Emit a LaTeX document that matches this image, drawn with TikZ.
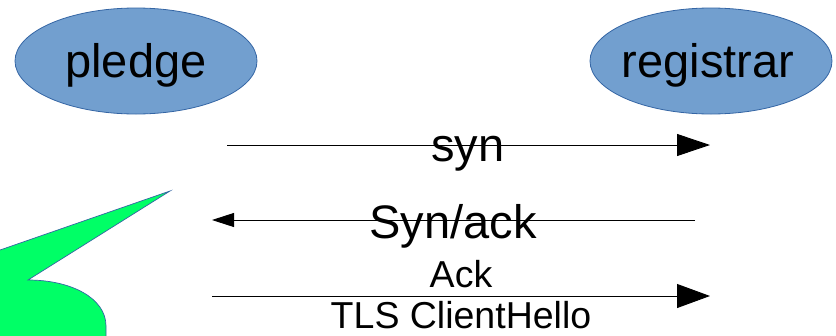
\documentclass[tikz,border=0pt]{standalone}
\usepackage{fontspec}
\setmainfont{Liberation Sans}
\usetikzlibrary{arrows.meta,shapes.geometric}
\definecolor{partyfill}{HTML}{729FCF}
\definecolor{partyline}{HTML}{3465A4}
\definecolor{calloutfill}{HTML}{00FF66}
\tikzset{
  party/.style={ellipse, draw=partyline, line width=0.8pt, fill=partyfill,
    minimum width=242pt, minimum height=106pt, inner sep=0pt},
  msg/.style={draw=black, line width=0.9pt},
  bigtip/.style={-{Triangle[length=33pt,width=22pt]}},
  smalltip/.style={-{Triangle[length=22pt,width=14pt]}},
  biglabel/.style={anchor=base, inner sep=0pt, font=\fontsize{47}{56}\selectfont},
  smalllabel/.style={anchor=base, inner sep=0pt, font=\fontsize{37.5}{45}\selectfont},
}
\begin{document}
\begin{tikzpicture}[x=1pt,y=-1pt]
\useasboundingbox (0,0) rectangle (836,335);

% speech-bubble callout, mostly outside the frame
\begin{scope}
  \clip (0,0) rectangle (836,335);
  \draw[draw=partyline, line width=0.7pt, fill=calloutfill]
    (-10,253.5) -- (170,191) -- (28,280)
    .. controls (71,280) and (106,298) .. (106,326) -- (106,345) -- (-10,345) -- cycle;
\end{scope}

% parties
\node[party] (pledge) at (136,61) {};
\node[party] (registrar) at (711,61) {};
\node[biglabel] (pledgetext) at (136,77) {pledge};
\node[biglabel] (registrartext) at (708,77) {registrar};

% message end points
\coordinate (synA) at (227,145);
\coordinate (synB) at (710,145);
\coordinate (saA) at (695,220);
\coordinate (saB) at (212,220);
\coordinate (ackA) at (212,296);
\coordinate (ackB) at (710,296);

% messages
\draw[msg, bigtip] (synA) -- (synB);
\draw[msg, smalltip] (saA) -- (saB);
\draw[msg, {-Triangle[length=33pt,width=24pt]}] (ackA) -- (ackB);

% message labels
\node[biglabel] (synlabel) at (468,161) {syn};
\node[biglabel] (salabel) at (453,238) {Syn/ack};
\node[smalllabel] (acklabel) at (461,287) {Ack};
\node[smalllabel] (tlslabel) at (461,328) {TLS ClientHello};
\end{tikzpicture}
\end{document}
